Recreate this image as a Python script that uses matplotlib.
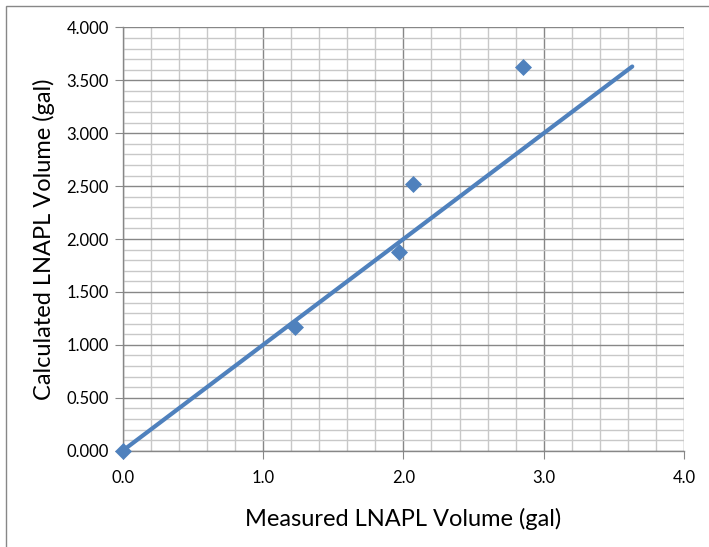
import matplotlib.pyplot as plt
from matplotlib.ticker import MultipleLocator, FormatStrFormatter
from matplotlib.patches import Rectangle

# measured vs calculated LNAPL volume
measured = [0.0, 1.23, 1.97, 2.07, 2.85]
calculated = [0.0, 1.17, 1.88, 2.52, 3.63]
line_x = [0.0, 3.63]
line_y = [0.0, 3.63]

plt.rcParams['font.family'] = ['Lato', 'DejaVu Sans']
blue = '#4F81BD'

fig = plt.figure(figsize=(7.09, 5.47), dpi=100)
ax = fig.add_axes([0.173, 0.176, 0.792, 0.774])

ax.plot(line_x, line_y, color=blue, lw=3, solid_capstyle='round', zorder=3)
ax.scatter(measured, calculated, marker='D', s=75, color=blue, zorder=4,
           linewidths=0, clip_on=False)

ax.set_xlim(0, 4)
ax.set_ylim(0, 4)
ax.xaxis.set_major_locator(MultipleLocator(1.0))
ax.xaxis.set_minor_locator(MultipleLocator(0.2))
ax.yaxis.set_major_locator(MultipleLocator(0.5))
ax.yaxis.set_minor_locator(MultipleLocator(0.1))
ax.xaxis.set_major_formatter(FormatStrFormatter('%.1f'))
ax.yaxis.set_major_formatter(FormatStrFormatter('%.3f'))

ax.grid(which='major', color='#878787', lw=1.0)
ax.grid(which='minor', color='#c8c8c8', lw=1.0)
ax.set_axisbelow(True)

for s in ['top', 'right']:
    ax.spines[s].set_visible(False)
for s in ['left', 'bottom']:
    ax.spines[s].set_color('#878787')
    ax.spines[s].set_linewidth(1.0)
ax.tick_params(which='major', length=6, color='#878787', labelsize=12, pad=4)
ax.tick_params(which='minor', length=0)
ax.tick_params(axis='x', pad=8)

ax.set_xlabel('Measured LNAPL Volume (gal)', fontsize=17, labelpad=16)
ax.set_ylabel('Calculated LNAPL Volume (gal)', fontsize=17, labelpad=8)

fig.add_artist(Rectangle((5.5 / 709, -0.05), 1.2, (541 + 27) / 547,
                         transform=fig.transFigure, fill=False,
                         edgecolor='#878787', lw=1.0))

fig.savefig('out.png', dpi=100)
